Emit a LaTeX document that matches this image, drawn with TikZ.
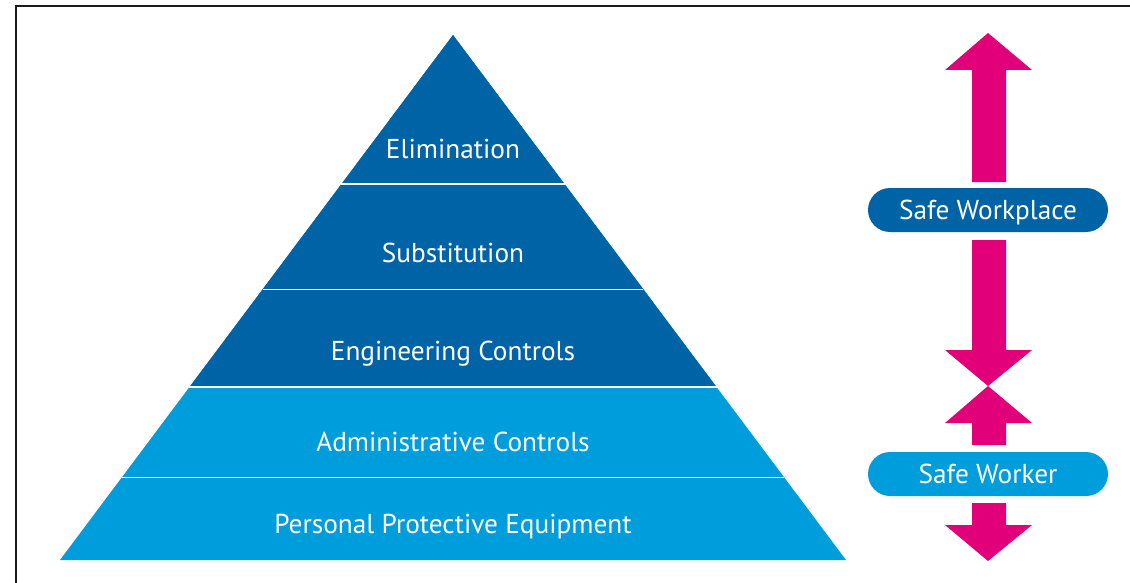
\documentclass[tikz,border=0pt]{standalone}
\usepackage{fontspec}
\setmainfont{PT Sans}
\usetikzlibrary{calc}
\definecolor{darkblue}{HTML}{0063A6}
\definecolor{lightblue}{HTML}{009DDC}
\definecolor{pink}{HTML}{E2007A}
\definecolor{framegray}{HTML}{1A1A1A}
\tikzset{
  bandlabel/.style={text=white, font=\fontsize{27.3}{30}\selectfont, inner sep=0pt, anchor=base},
  pill/.style={rounded corners=22pt, minimum width=240pt, minimum height=44pt, inner sep=0pt,
    text=white, font=\fontsize{27.3}{30}\selectfont, text height=19pt, text depth=0pt},
  sep/.style={draw=white, line width=1.6pt},
  bigarrow/.style={fill=pink, draw=none}
}
\begin{document}
\begin{tikzpicture}[x=1pt, y=-1pt]
\useasboundingbox (0,0) rectangle (1130,583);
% frame
\draw[framegray, line width=2pt] (16,583) -- (16,6.5) -- (1130,6.5);
% pyramid
\coordinate (apex) at (453,35);
\coordinate (bl) at (60,560);
\coordinate (br) at (846,560);
\fill[lightblue] (apex) -- (bl) -- (br) -- cycle;
\fill[darkblue] (apex) -- ($(apex)!0.671!(bl)$) -- ($(apex)!0.671!(br)$) -- cycle;
\foreach \t in {0.2838,0.4844,0.671,0.8425}
  \draw[sep] ($(apex)!\t!(bl)$) -- ($(apex)!\t!(br)$);
\node[bandlabel] (elim) at (453,158) {Elimination};
\node[bandlabel] (subst) at (453,262) {Substitution};
\node[bandlabel] (eng) at (453,360) {Engineering Controls};
\node[bandlabel] (admin) at (453,451) {Administrative Controls};
\node[bandlabel] (ppe) at (453,533) {Personal Protective Equipment};
% arrows
\fill[bigarrow] (988,33) -- (1032,70) -- (1006,70) -- (1006,182) -- (972,182) -- (972,70) -- (945,70) -- cycle;
\fill[bigarrow] (972,240) -- (1006,240) -- (1006,350) -- (1032,350) -- (988,386) -- (945,350) -- (972,350) -- cycle;
\fill[bigarrow] (988,386) -- (1032,423) -- (1006,423) -- (1006,445) -- (972,445) -- (972,423) -- (945,423) -- cycle;
\fill[bigarrow] (972,503) -- (1006,503) -- (1006,525) -- (1032,525) -- (988,561) -- (945,525) -- (972,525) -- cycle;
% pills
\node[pill, fill=darkblue] (workplace) at (988,210) {Safe Workplace};
\node[pill, fill=lightblue] (worker) at (988,474) {Safe Worker};
\end{tikzpicture}
\end{document}
